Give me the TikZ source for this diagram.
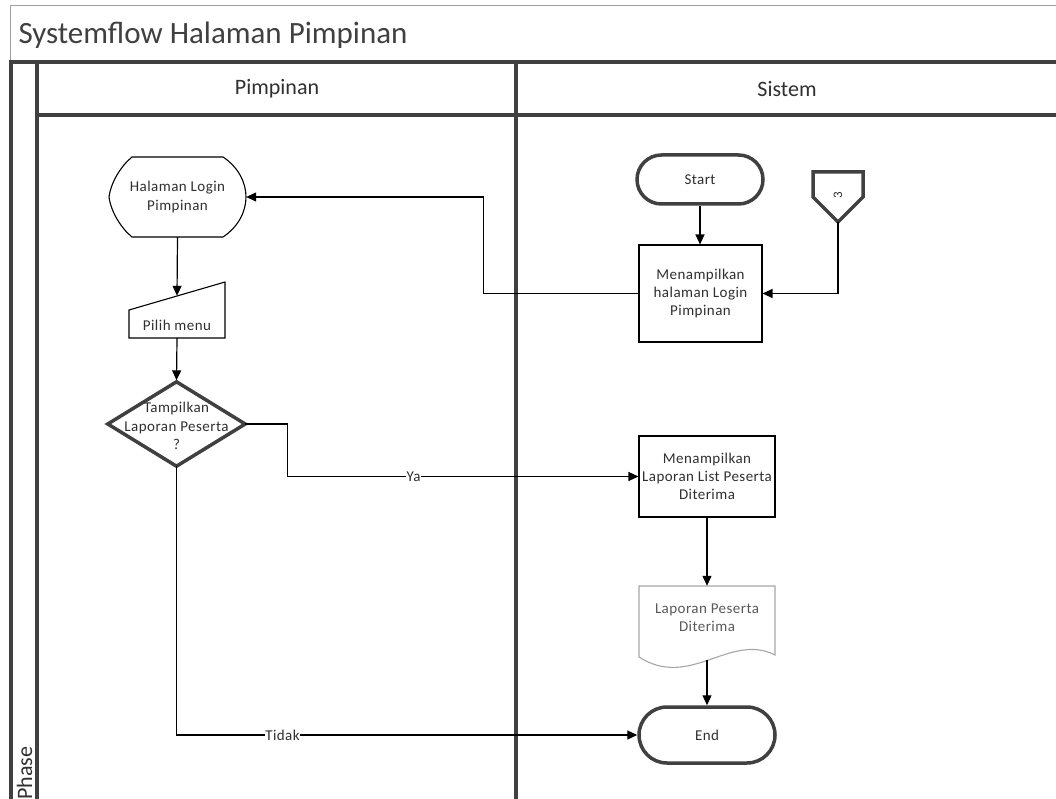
\documentclass[tikz,border=0pt]{standalone}
\usepackage{fontspec}
\setmainfont{Carlito}
\newfontfamily\shapefont[LetterSpace=3]{Carlito}
\usetikzlibrary{arrows.meta,shapes.misc,calc}
\definecolor{poolline}{HTML}{404040}
\definecolor{framegray}{HTML}{A0A0A0}
\definecolor{txt}{HTML}{303030}
\definecolor{docgray}{HTML}{A6A6A6}
\definecolor{doctxt}{HTML}{595959}

\tikzset{
  pool/.style={line width=4pt, draw=poolline},
  txtnode/.style={inner sep=0pt, align=center, text=txt,
    font=\shapefont\fontsize{15}{18.5}\selectfont},
  holder/.style={draw=none, inner sep=0pt, minimum width=#1},
  procbox/.style={draw=black, line width=1.1pt, inner sep=0pt, align=center,
    text=txt, font=\shapefont\fontsize{15}{18}\selectfont},
  termbox/.style={rounded rectangle, draw=poolline, line width=3.5pt,
    inner sep=0pt, text=txt, font=\shapefont\fontsize{15}{18}\selectfont},
  thickline/.style={draw=poolline, line width=3.5pt, line join=miter},
  thinline/.style={draw=black, line width=1.1pt},
  arr/.style={draw=black, line width=1.2pt, -{Triangle[length=10pt,width=9pt]}},
  lbl/.style={fill=white, inner sep=0.5pt, text=txt,
    font=\shapefont\fontsize{15}{17}\selectfont},
  header/.style={text=txt, font=\fontsize{22}{26}\selectfont}
}

\begin{document}
\begin{tikzpicture}[x=1pt,y=-1pt]
  \useasboundingbox (0,0) rectangle (1056,799);
  \clip (0,0) rectangle (1056,799);
  \fill[white] (0,0) rectangle (1056,799);

  % outer frame and title
  \draw[framegray, line width=1pt] (10,6) rectangle (1100,900);
  \node[anchor=west, text=poolline, font=\fontsize{31}{35}\selectfont]
    (title) at (15,35) {Systemflow Halaman Pimpinan};

  % swimlane grid
  \draw[pool] (11,62) -- (1100,62);
  \draw[pool] (11,60) -- (11,820);
  \draw[pool] (37,62) -- (37,820);
  \draw[pool] (37,115) -- (1100,115);
  \draw[pool] (516,62) -- (516,820);

  \node[header] (lanep) at (277,89) {Pimpinan};
  \node[header] (lanes) at (787,89) {Sistem};
  \node[header, rotate=90, anchor=base east] (phase) at (32,743) {Phase};

  % ---- Pimpinan lane ----
  % display: login page
  \node[txtnode, minimum width=137pt, minimum height=80pt] (disp) at (177.5,197)
    {Halaman Login\\Pimpinan};
  \draw[thinline] (132,157) -- (223,157)
    .. controls (238,167) and (246,182) .. (246,197)
    .. controls (246,212) and (238,227) .. (223,237) -- (132,237)
    .. controls (121,228) and (111,212) .. (109,197)
    .. controls (111,182) and (121,166) .. (132,157) -- cycle;

  % manual input: choose menu
  \node[holder=96pt, minimum height=56pt] (pilih) at (177,310) {};
  \draw[thinline] (129,310) -- (225,282) -- (225,338) -- (129,338) -- cycle;
  \node[txtnode] (pilihtext) at (177,325) {Pilih menu};

  % decision
  \node[holder=137pt, minimum height=84pt] (dec) at (176.5,424) {};
  \draw[thickline] (dec.north) -- (dec.east) -- (dec.south) -- (dec.west) -- cycle;
  \node[txtnode] (dectext) at (176.5,426) {Tampilkan\\Laporan Peserta\\?};

  % ---- Sistem lane ----
  \node[termbox, minimum width=126pt, minimum height=49pt] (start) at (700,179.5) {Start};

  \node[procbox, minimum width=123pt, minimum height=97pt] (m1) at (700.5,293.5)
    {Menampilkan\\halaman Login\\Pimpinan};

  % off-page connector
  \node[holder=50pt, minimum height=50pt] (conn) at (838,197) {};
  \draw[thickline] (813,172) -- (863,172) -- (863,197) -- (838,222) -- (813,197) -- cycle;
  \node[txtnode, rotate=90, font=\fontsize{13}{15}\selectfont] (conntext) at (838,195) {3};

  \node[procbox, minimum width=136pt, minimum height=81pt] (m2) at (707,476.5)
    {Menampilkan\\Laporan List Peserta\\Diterima};

  % document: report
  \node[holder=136pt, minimum height=74pt] (doc) at (707,623) {};
  \draw[docgray, line width=1.1pt] (639,657) -- (639,586) -- (775,586) -- (775,655)
    .. controls (730,632) and (690,690) .. (639,657) -- cycle;
  \node[txtnode, text=doctxt] (doctext) at (707,617.5) {Laporan Peserta\\Diterima};

  \node[termbox, minimum width=136pt, minimum height=56pt] (end) at (707,735) {End};

  % ---- flow ----
  \draw[arr] (start.south) -- (start.south |- m1.north);
  \draw[arr] (conn.south) |- (m1.east);
  \draw[arr] (m1.west) -- ++(-155,0) |- (disp.east);
  \draw[arr] (disp.south) -- ($(pilih.north)+(0,14)$);
  \draw[arr, shorten >=1.5pt] (pilih.south) -- (dec.north);
  \draw[arr] (dec.east) -- ++(42,0) |- (m2.west) node[lbl, pos=0.68] {Ya};
  \draw[arr] (dec.south) |- (end.west) node[lbl, pos=0.615] {Tidak};
  \draw[arr] (m2.south) -- (doc.north);
  \draw[arr] (doc.south) -- (end.north);
\end{tikzpicture}
\end{document}
